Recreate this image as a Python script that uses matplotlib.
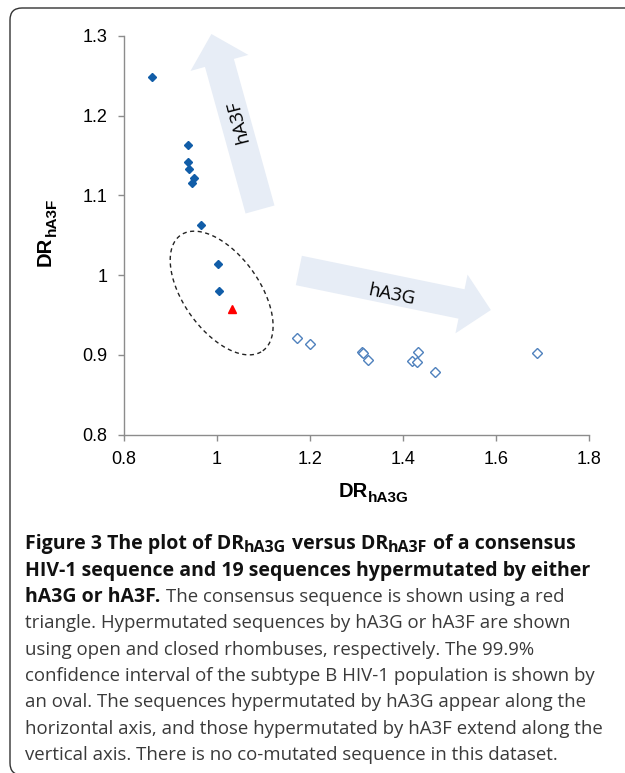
import numpy as np
import matplotlib.pyplot as plt
from matplotlib.patches import FancyArrowPatch, FancyBboxPatch

# Datos leidos de la figura
# rombos cerrados: hipermutadas por hA3F
dr_a3g_cerrados = [0.861, 0.938, 0.937, 0.939, 0.950, 0.947, 0.965, 1.003, 1.005]
dr_a3f_cerrados = [1.248, 1.163, 1.142, 1.133, 1.122, 1.115, 1.063, 1.014, 0.980]
# rombos abiertos: hipermutadas por hA3G
dr_a3g_abiertos = [1.171, 1.201, 1.312, 1.315, 1.324, 1.432, 1.420, 1.430, 1.468, 1.689]
dr_a3f_abiertos = [0.921, 0.913, 0.904, 0.902, 0.894, 0.903, 0.892, 0.891, 0.879, 0.902]
# secuencia consenso (triangulo rojo)
consenso_x = [1.032]
consenso_y = [0.958]

# ovalo del intervalo de confianza 99.9% (centro y semiejes en unidades de datos)
centro_ovalo = (1.010, 0.9775)
eje_mayor = (0.0885, -0.0725)
eje_menor = (0.0664, 0.0277)

# flechas (cola -> punta) y sus etiquetas
flecha_a3f = ((1.0925, 1.0823), (0.988, 1.3025))
flecha_a3g = ((1.176, 1.0058), (1.589, 0.9562))
pos_texto_a3f = (1.0446, 1.193)
pos_texto_a3g = (1.375, 0.975)

x_ticks = [0.8, 1, 1.2, 1.4, 1.6, 1.8]
x_etiquetas = ['0.8', '1', '1.2', '1.4', '1.6', '1.8']
y_ticks = [0.8, 0.9, 1, 1.1, 1.2, 1.3]
y_etiquetas = ['0.8', '0.9', '1', '1.1', '1.2', '1.3']

W, H = 625, 773
fig = plt.figure(figsize=(W / 100, H / 100), dpi=100)
ax = fig.add_axes([124 / W, 1 - 434.5 / H, 465 / W, 398.5 / H])


def px(x, y):
    # pixeles (desde arriba a la izquierda) -> pulgadas para dpi_scale_trans
    return x / 100, (H - y) / 100


# marco redondeado alrededor de toda la figura
marco = FancyBboxPatch((0.10, -0.02), 6.5, (H - 8) / 100 + 0.02,
                       boxstyle='round,pad=0,rounding_size=0.12',
                       transform=fig.dpi_scale_trans, fill=False,
                       ec='#333333', lw=1.0)
fig.patches.append(marco)

# flechas de fondo
color_flecha = '#E7EDF6'
estilo = 'simple,head_length=21.6,head_width=43.2,tail_width=21.6'
for cola, punta in (flecha_a3f, flecha_a3g):
    ax.add_patch(FancyArrowPatch(cola, punta, arrowstyle=estilo, mutation_scale=1,
                                 shrinkA=0, shrinkB=0, color=color_flecha, lw=0,
                                 zorder=0, clip_on=False))
ax.text(*pos_texto_a3f, 'hA3F', rotation=104.5, rotation_mode='anchor',
        ha='center', va='center', fontsize=13.5, family='Open Sans', zorder=1)
ax.text(*pos_texto_a3g, 'hA3G', rotation=-11.6, rotation_mode='anchor',
        ha='center', va='center', fontsize=13.5, family='Open Sans', zorder=1)

# ovalo punteado
t = np.linspace(0, 2 * np.pi, 300)
ox = centro_ovalo[0] + eje_mayor[0] * np.cos(t) + eje_menor[0] * np.sin(t)
oy = centro_ovalo[1] + eje_mayor[1] * np.cos(t) + eje_menor[1] * np.sin(t)
ax.plot(ox, oy, color='#222222', lw=1.0, ls=(0, (3, 2.5)), zorder=2)

# puntos
ax.plot(dr_a3g_cerrados, dr_a3f_cerrados, 'D', ms=4.3, color='#115DA8', zorder=3)
ax.plot(dr_a3g_abiertos, dr_a3f_abiertos, 'D', ms=4.6, mfc='white',
        mec='#4F81BD', mew=1.0, zorder=3)
ax.plot(consenso_x, consenso_y, '^', ms=6, color='#FF0000', zorder=3)

ax.set_xlim(0.8, 1.8)
ax.set_ylim(0.8, 1.3)
ax.set_xticks(x_ticks)
ax.set_xticklabels(x_etiquetas)
ax.set_yticks(y_ticks)
ax.set_yticklabels(y_etiquetas)
for lab in ax.get_xticklabels() + ax.get_yticklabels():
    lab.set_family('Liberation Sans')
    lab.set_fontsize(13)
ax.tick_params(direction='out', length=4, width=1, color='#8C8C8C', pad=8)
ax.spines['top'].set_visible(False)
ax.spines['right'].set_visible(False)
for s in ('left', 'bottom'):
    ax.spines[s].set_color('#8C8C8C')
    ax.spines[s].set_linewidth(1.0)
ax.set_facecolor('none')

renderer = fig.canvas.get_renderer()

# etiquetas de ejes: DR con subindice
fuente_eje = dict(family='Liberation Sans', fontweight='bold',
                  transform=fig.dpi_scale_trans)
b = fig.text(0, 0, 'DR', fontsize=14.5, ha='left', va='baseline', **fuente_eje)
s = fig.text(0, 0, 'hA3G', fontsize=11, ha='left', va='baseline', **fuente_eje)
wb = b.get_window_extent(renderer).width
ws = s.get_window_extent(renderer).width
x0 = 373.5 - (wb + ws) / 2
b.set_position(px(x0, 497))
s.set_position(px(x0 + wb, 502))

b = fig.text(0, 0, 'DR', fontsize=14.5, rotation=90, rotation_mode='anchor',
             ha='left', va='baseline', **fuente_eje)
s = fig.text(0, 0, 'hA3F', fontsize=11, rotation=90, rotation_mode='anchor',
             ha='left', va='baseline', **fuente_eje)
hb = b.get_window_extent(renderer).height
hs = s.get_window_extent(renderer).height
y0 = 232 + (hb + hs) / 2
b.set_position(px(51, y0))
s.set_position(px(56, y0 - hb))

# leyenda de la figura
x_cap = 25
base0 = 549.3
paso = 26.35
tam_neg = 14
tam_sub = 11.5
tam_reg = 13.4
negro = '#111111'
gris = '#3A3A3A'


def tramos(x, y, partes):
    # escribe trozos de texto seguidos; None = un espacio
    for parte in partes:
        if parte is None:
            x += 0.28 * tam_neg * 100 / 72
            continue
        texto, tam, peso, color, dy = parte
        tx = fig.text(*px(x, y + dy), texto, fontsize=tam, fontweight=peso,
                      family='Open Sans', color=color, va='baseline',
                      transform=fig.dpi_scale_trans)
        x += tx.get_window_extent(renderer).width
    return x


tramos(x_cap, base0, [
    ('Figure 3 The plot of DR', tam_neg, 'bold', negro, 0),
    ('hA3G', tam_sub, 'bold', negro, 3),
    None,
    ('versus DR', tam_neg, 'bold', negro, 0),
    ('hA3F', tam_sub, 'bold', negro, 3),
    None,
    ('of a consensus', tam_neg, 'bold', negro, 0),
])
tramos(x_cap, base0 + paso, [
    ('HIV-1 sequence and 19 sequences hypermutated by either', tam_neg, 'bold', negro, 0),
])
tramos(x_cap, base0 + 2 * paso, [
    ('hA3G or hA3F.', tam_neg, 'bold', negro, 0),
    None,
    ('The consensus sequence is shown using a red', tam_reg, 'normal', gris, 0),
])
lineas = [
    'triangle. Hypermutated sequences by hA3G or hA3F are shown',
    'using open and closed rhombuses, respectively. The 99.9%',
    'confidence interval of the subtype B HIV-1 population is shown by',
    'an oval. The sequences hypermutated by hA3G appear along the',
    'horizontal axis, and those hypermutated by hA3F extend along the',
    'vertical axis. There is no co-mutated sequence in this dataset.',
]
for i, linea in enumerate(lineas):
    tramos(x_cap, base0 + (i + 3) * paso, [(linea, tam_reg, 'normal', gris, 0)])

fig.savefig('out.png', dpi=100)
